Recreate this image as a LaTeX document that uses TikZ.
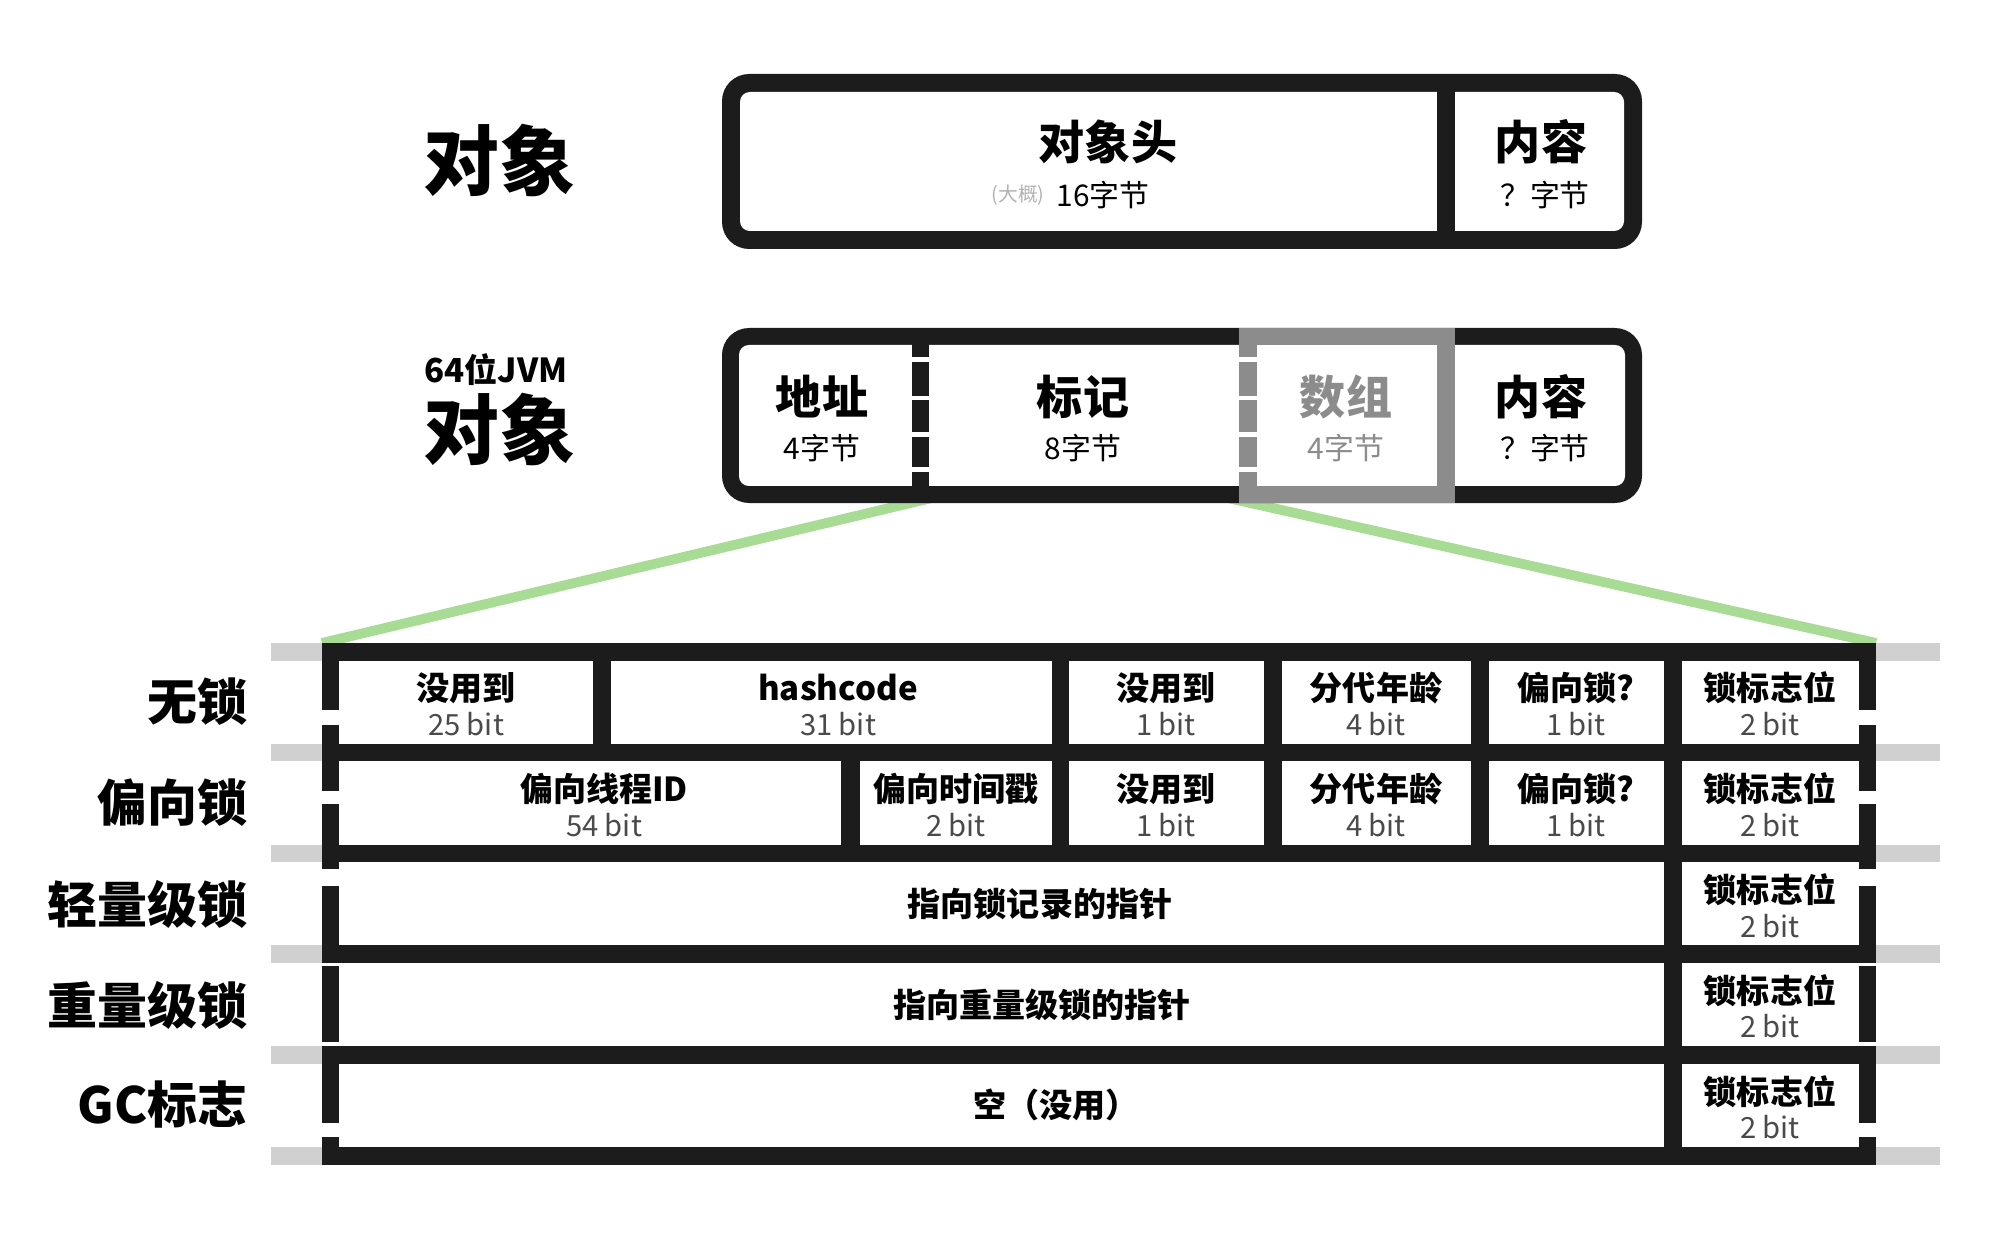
\documentclass[tikz,border=0pt]{standalone}
\usepackage{fontspec}
\setmainfont{Noto Sans CJK SC}
\usetikzlibrary{positioning}
\definecolor{ink}{HTML}{1C1C1C}
\definecolor{stripe}{HTML}{D0D0D0}
\definecolor{arraygrey}{HTML}{8C8C8C}
\definecolor{leaf}{HTML}{A8DB94}
\definecolor{bitgrey}{HTML}{4A4A4A}
\begin{document}
\begin{tikzpicture}[x=0.01cm,y=-0.01cm,
    big/.style={font=\fontsize{21.6}{24}\selectfont\bfseries,inner sep=0},
    jvm/.style={font=\fontsize{9.4}{11}\selectfont\bfseries,inner sep=0},
    ttl/.style={font=\fontsize{13.1}{15}\selectfont\bfseries,inner sep=0},
    sub/.style={font=\fontsize{8.5}{10}\selectfont,inner sep=0},
    approx/.style={font=\fontsize{5.6}{7}\selectfont,text=black!30,inner sep=0},
    cellttl/.style={font=\fontsize{9.4}{11}\selectfont\bfseries,inner sep=0},
    cellbit/.style={font=\fontsize{8.3}{10}\selectfont,text=bitgrey,inner sep=0},
    rowlbl/.style={font=\fontsize{14.2}{16}\selectfont\bfseries,anchor=east,inner sep=0},
    link/.style={leaf,line width=2.8pt}]
    \useasboundingbox (0,0) rectangle (2000,1246);
    % green links, drawn first so the boxes sit on top
    \coordinate (markL) at (940,496);
    \coordinate (markR) at (1219,496);
    \coordinate (tblNW) at (322,643);
    \coordinate (tblNE) at (1876,643);
    \draw[link] (markL) -- (tblNW);
    \draw[link] (markR) -- (tblNE);
    % object
    \node[big] (obj) at (499,160) {对象};
    \fill[ink,rounded corners=7.7pt] (722,74) rectangle (1642,249);
    \fill[white,rounded corners=2.8pt] (740,92) rectangle (1624,231);
    \fill[ink] (1437,74) rectangle (1455,249);
    \node[ttl] (head) at (1108,142) {对象头};
    \node[sub] (headsz) at (1103,195) {16字节};
    \node[approx,left=3pt of headsz] (about) {(大概)};
    \node[ttl] (body) at (1541,142) {内容};
    \node[sub] (bodysz) at (1545,195) {？字节};
    % 64 bit jvm object
    \node[jvm] (jvm) at (496,370) {64位JVM};
    \node[big] (obj64) at (499,429) {对象};
    \fill[ink,rounded corners=7.7pt] (722,328) rectangle (1642,503);
    \fill[white,rounded corners=2.8pt] (739,345) rectangle (1625,486);
    \fill[ink] (912,328) rectangle (929,503);
    \fill[arraygrey] (1239,328) rectangle (1455,503);
    \fill[white] (1257,345) rectangle (1437,486);
    \foreach \a/\b in {357/362,396/400,432/437,467/472}{
        \fill[white] (912,\a) rectangle (929,\b);
        \fill[white] (1239,\a) rectangle (1257,\b);
    }
    \node[ttl] (addr) at (822,397) {地址};
    \node[sub] (addrsz) at (822,448) {4字节};
    \node[ttl] (mark) at (1083,397) {标记};
    \node[sub] (marksz) at (1083,448) {8字节};
    \node[ttl,text=arraygrey] (arr) at (1346,397) {数组};
    \node[sub,text=arraygrey] (arrsz) at (1346,448) {4字节};
    \node[ttl] (body64) at (1541,397) {内容};
    \node[sub] (body64sz) at (1545,448) {？字节};
    % mark word table
    \foreach \k in {0,...,5}{
        \fill[stripe] (271,643+100.8*\k) rectangle (322,660.5+100.8*\k);
        \fill[stripe] (1876,643+100.8*\k) rectangle (1940,660.5+100.8*\k);
    }
    \fill[ink] (tblNW) rectangle (1876,1164.5);
    \foreach \a/\b/\c/\t/\n [count=\i] in {339/593/466/没用到/25,611/1052/838/hashcode/31,1069/1264/1166/没用到/1,1282/1471/1376/分代年龄/4,1489/1664/1576/偏向锁?/1,1682/1859/1770/锁标志位/2}{
        \fill[white] (\a,660.5) rectangle (\b,743.8);
        \node[cellttl] (free\i) at (\c,688) {\t};
        \node[cellbit] (freebit\i) at (\c,724) {\n\ bit};
    }
    \foreach \a/\b/\c/\t/\n [count=\i] in {339/841/604/偏向线程ID/54,860/1052/956/偏向时间戳/2,1069/1264/1166/没用到/1,1282/1471/1376/分代年龄/4,1489/1664/1576/偏向锁?/1,1682/1859/1770/锁标志位/2}{
        \fill[white] (\a,761.3) rectangle (\b,844.6);
        \node[cellttl] (bias\i) at (\c,789) {\t};
        \node[cellbit] (biasbit\i) at (\c,825) {\n\ bit};
    }
    \foreach \y/\t/\c/\nm in {862.1/指向锁记录的指针/1040/thin,962.9/指向重量级锁的指针/1042/fat,1063.7/空（没用）/1056/gc}{
        \fill[white] (339,\y) rectangle (1664,\y+83.3);
        \fill[white] (1682,\y) rectangle (1859,\y+83.3);
        \node[cellttl] (\nm) at (\c,\y+41.6) {\t};
        \node[cellttl] (\nm flag) at (1770,\y+27.6) {锁标志位};
        \node[cellbit] (\nm bit) at (1770,\y+63.6) {2 bit};
    }
    \foreach \a/\b in {710/725,791/804,869/886,963/966,1042/1046,1123/1137}{
        \fill[white] (322,\a) rectangle (339,\b);
        \fill[white] (1859,\a) rectangle (1876,\b);
    }
    \node[rowlbl] (nolock) at (248,702) {无锁};
    \node[rowlbl] (biased) at (248,803) {偏向锁};
    \node[rowlbl] (light) at (248,904) {轻量级锁};
    \node[rowlbl] (heavy) at (248,1005) {重量级锁};
    \node[rowlbl] (gcmark) at (248,1105) {GC标志};
\end{tikzpicture}
\end{document}
